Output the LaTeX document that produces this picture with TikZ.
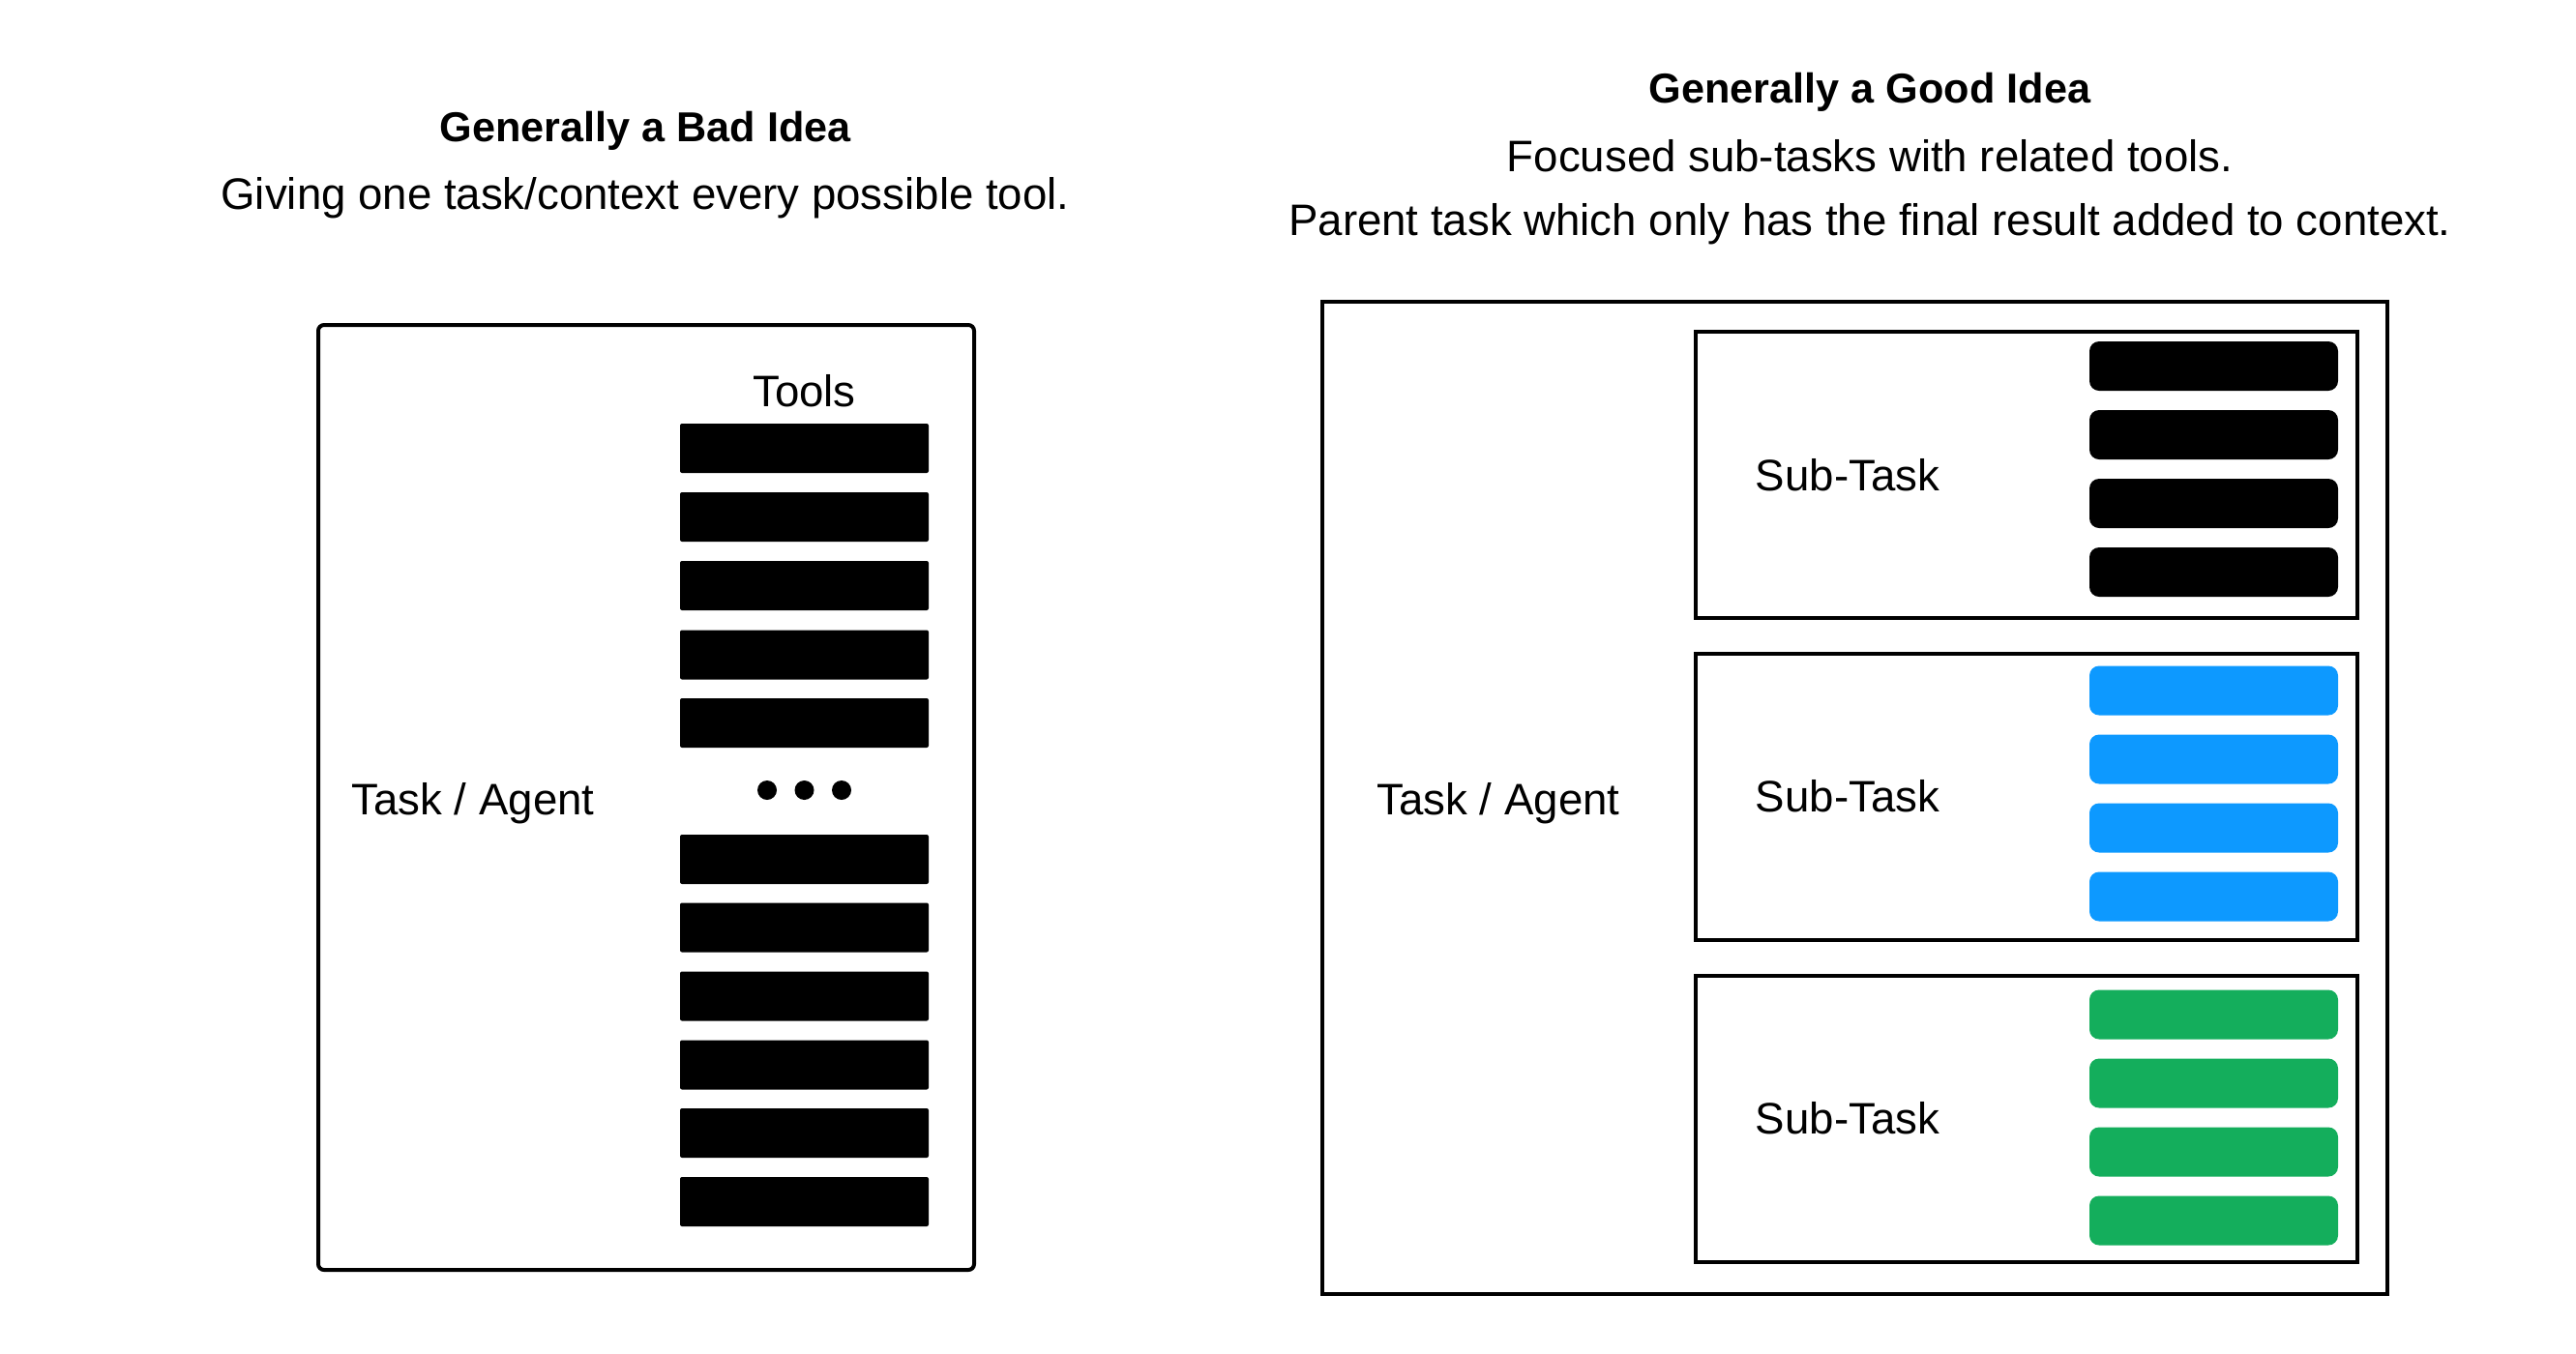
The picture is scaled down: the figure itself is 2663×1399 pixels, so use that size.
\documentclass[tikz,border=0pt]{standalone}
\usepackage{fontspec}
\setmainfont{Liberation Sans}
\definecolor{toolblue}{HTML}{0D99FF}
\definecolor{toolgreen}{HTML}{14AE5C}
\begin{document}
\begin{tikzpicture}[x=0.5pt,y=-0.5pt,
  frame/.style={draw=black,line width=2pt,inner sep=0pt,fill=none},
  toolbar/.style={fill=black,minimum width=128.5pt,minimum height=25.5pt,inner sep=0pt,rounded corners=1pt},
  subbar/.style={minimum width=128.5pt,minimum height=25.5pt,inner sep=0pt,rounded corners=5pt},
  lbl/.style={font=\fontsize{22.8}{26}\selectfont,inner sep=0pt},
  ttl/.style={font=\fontsize{21.6}{26}\selectfont\bfseries,inner sep=0pt},
  dot/.style={circle,fill=black,minimum size=10pt,inner sep=0pt},
]
\useasboundingbox (0,0) rectangle (2663,1399);

% ---------- left side ----------
\node[ttl] (badtitle) at (667,135) {Generally a Bad Idea};
\node[lbl] (badsub) at (667,205) {Giving one task/context every possible tool.};

\node[frame,rounded corners=3pt,minimum width=339pt,minimum height=488.5pt] (leftbox) at (668,824.5) {};
\node[lbl] (tools) at (831.5,404) {Tools};
\node[lbl] (agentL) at (489,831) {Task / Agent};

\foreach \y [count=\i] in {463.5,534.5,605.5,677,747.5,888.5,959,1030,1101,1171.5,1242.5}
  \node[toolbar] (lt\i) at (831.5,\y) {};
\node[dot] (d1) at (793,817) {};
\node[dot] (d2) at (831.5,817) {};
\node[dot] (d3) at (870,817) {};

% ---------- right side ----------
\node[ttl] (goodtitle) at (1933,95) {Generally a Good Idea};
\node[lbl] (goodsub1) at (1933,161) {Focused sub-tasks with related tools.};
\node[lbl] (goodsub2) at (1933,232) {Parent task which only has the final result added to context.};

\node[frame,minimum width=550.5pt,minimum height=513pt] (rightbox) at (1917.5,825) {};
\node[lbl] (agentR) at (1549,831) {Task / Agent};

\foreach \cy/\by/\col [count=\k] in {491/378.5/black,823.5/714/toolblue,1156.5/1049/toolgreen}{
  \node[frame,minimum width=342pt,minimum height=148pt] (sub\k) at (2095,\cy) {};
  \node[lbl] (subl\k) at (1910,\cy) {Sub-Task};
  \foreach \j in {0,1,2,3}
    \node[subbar,fill=\col] (sb\k\j) at (2288.5,\by+71*\j) {};
}
\end{tikzpicture}
\end{document}
